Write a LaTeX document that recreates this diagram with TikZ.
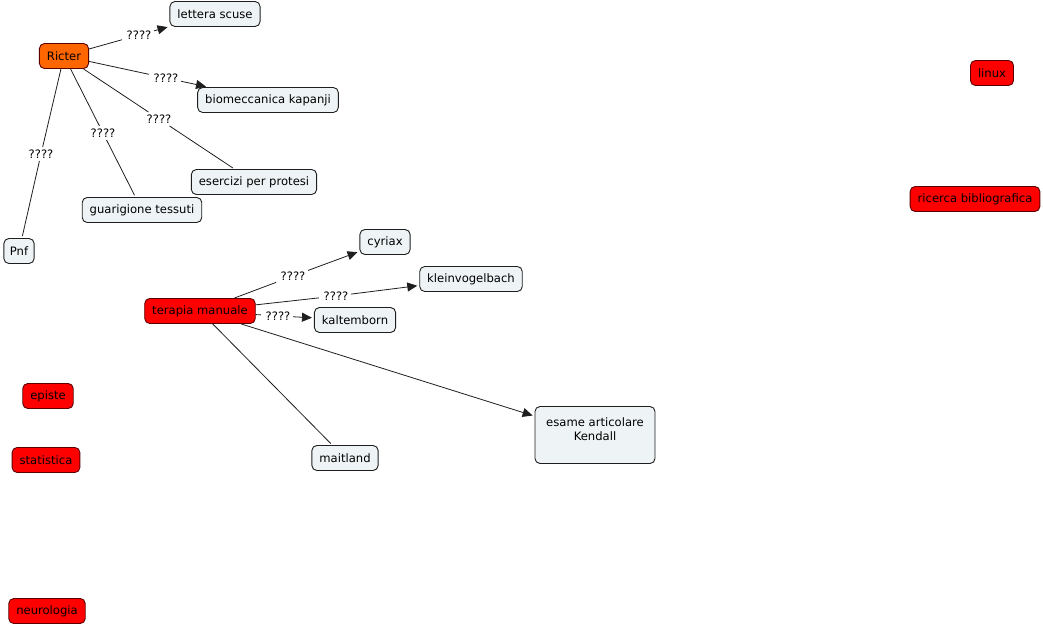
\documentclass[tikz,border=0pt]{standalone}
\usepackage{fontspec}
\setmainfont{DejaVu Sans}
\usetikzlibrary{arrows.meta}
\definecolor{paper}{HTML}{EEF3F5}
\definecolor{edge}{HTML}{1E1E1E}
\definecolor{hot}{HTML}{FF0000}
\definecolor{hotrim}{HTML}{5A0000}
\definecolor{amber}{HTML}{FF6600}

\begin{document}
\begin{tikzpicture}[x=1pt,y=-1pt,font=\fontsize{11.6}{14}\selectfont,>={Triangle[length=10pt,width=9pt]},
  concept/.style={draw=edge,line width=0.9pt,fill=paper,rounded corners=5pt,minimum height=25pt,inner xsep=7.5pt},
  topic/.style={concept,draw=hotrim,fill=hot},
  linkword/.style={inner sep=2.5pt},
  link/.style={edge,line width=0.8pt,shorten >=2pt}]
  \useasboundingbox (0,0) rectangle (1043,628);

  % concepts
  \node[concept] (lettera) at (215,14) {lettera scuse};
  \node[concept,draw=hotrim,fill=amber] (ricter) at (64,56) {Ricter};
  \node[concept] (biomecc) at (268,100) {biomeccanica kapanji};
  \node[concept] (esercizi) at (254,182) {esercizi per protesi};
  \node[concept] (guarig) at (142,210) {guarigione tessuti};
  \node[concept,inner xsep=6pt] (pnf) at (19,251) {Pnf};
  \node[concept] (cyriax) at (385,242) {cyriax};
  \node[concept] (klein) at (471,279) {kleinvogelbach};
  \node[topic] (terapia) at (200,311) {terapia manuale};
  \node[concept] (kalt) at (355,320) {kaltemborn};
  \node[concept,minimum width=120pt,minimum height=57pt,align=center,text depth=11pt] (esame) at (595,435)
    {esame articolare\\Kendall};
  \node[concept] (maitland) at (345,458) {maitland};

  \node[topic] (episte) at (48,396) {episte};
  \node[topic] (statist) at (46,460) {statistica};
  \node[topic] (neuro) at (47,611) {neurologia};
  \node[topic] (linux) at (992,73) {linux};
  \node[topic] (ricerca) at (975,199) {ricerca bibliografica};

  % linking phrases
  \node[linkword] (l1) at (139,35) {????};
  \node[linkword] (l2) at (166,78) {????};
  \node[linkword] (l3) at (159,119) {????};
  \node[linkword] (l4) at (103,133) {????};
  \node[linkword] (l5) at (41,154) {????};
  \node[linkword] (l6) at (293,276) {????};
  \node[linkword] (l7) at (336,296) {????};
  \node[linkword] (l8) at (278,316) {????};

  \draw[link] (ricter) -- (l1);
  \draw[link,->] (l1) -- (lettera);
  \draw[link] (ricter) -- (l2);
  \draw[link,->] (l2) -- (biomecc);
  \draw[link] (ricter) -- (l3) -- (esercizi);
  \draw[link] (ricter) -- (l4) -- (guarig);
  \draw[link] (ricter) -- (l5) -- (pnf);

  \draw[link] (terapia) -- (l6);
  \draw[link,->] (l6) -- (cyriax);
  \draw[link] (terapia) -- (l7);
  \draw[link,->] (l7) -- (klein);
  \draw[link] (terapia) -- (l8);
  \draw[link,->] (l8) -- (kalt);
  \draw[link,->] (terapia) -- (esame);
  \draw[link] (terapia) -- (maitland);
\end{tikzpicture}
\end{document}
